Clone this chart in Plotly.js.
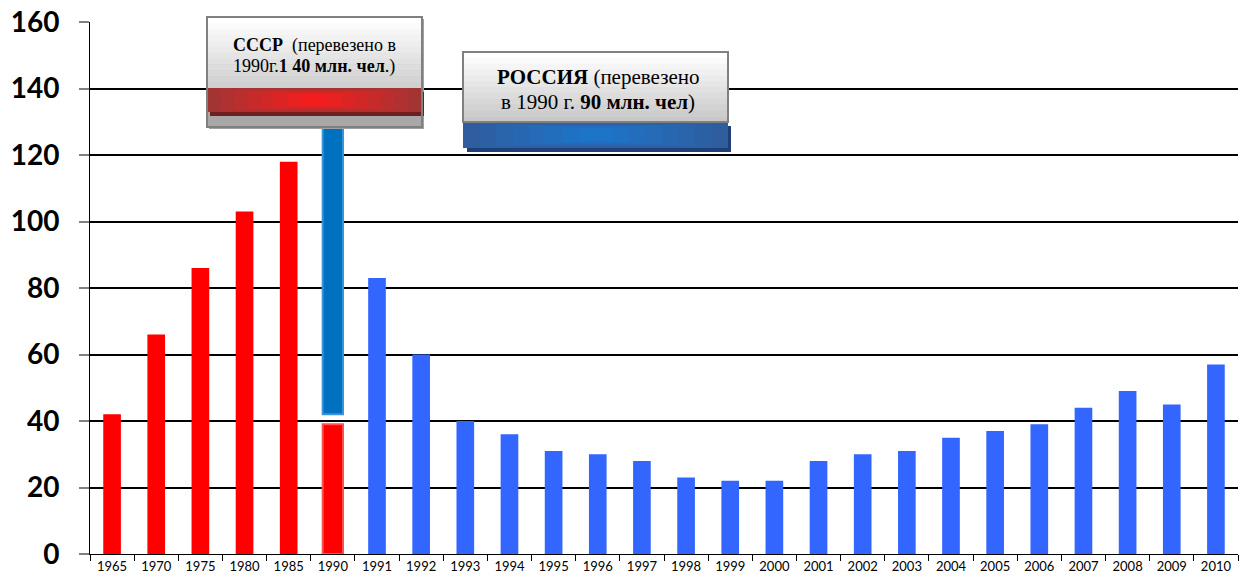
<!DOCTYPE html>
<html><head><meta charset="utf-8">
<script src="https://cdn.plot.ly/plotly-3.0.1.min.js"></script>
<style>body{margin:0;background:#fff}#chart{width:1243px;height:581px}</style>
</head><body><div id="chart"></div>
<script>
const years = ['1965','1970','1975','1980','1985','1990','1991','1992','1993','1994','1995','1996','1997','1998','1999','2000','2001','2002','2003','2004','2005','2006','2007','2008','2009','2010'];
const ussrYears = ['1965','1970','1975','1980','1985'];
const ussrValues = [42, 66, 86, 103, 118];
const ussr1990 = [39];
const russia1990Base = [42];
const russia1990Top = [130];
const russiaYears = ['1991','1992','1993','1994','1995','1996','1997','1998','1999','2000','2001','2002','2003','2004','2005','2006','2007','2008','2009','2010'];
const russiaValues = [83, 60, 40, 36, 31, 30, 28, 23, 22, 22, 28, 30, 31, 35, 37, 39, 44, 49, 45, 57];
const yTicks = [0,20,40,60,80,100,120,140,160];

const W=1243,H=581,L=90,R=5,T=22,B=27;
const pw=W-L-R, ph=H-T-B;
const px=x=>(x-L)/pw, py=y=>(H-B-y)/ph;
function rect(x0,y0,x1,y1,fill,line,lw){return {type:'rect',xref:'paper',yref:'paper',x0:px(x0),x1:px(x1),y0:py(y1),y1:py(y0),fillcolor:fill,line:{color:line||fill,width:lw||0},layer:'above'};}

const shapes=[];
const parse=c=>[parseInt(c.slice(1,3),16),parseInt(c.slice(3,5),16),parseInt(c.slice(5,7),16)];
function gradBox(x0,y0,x1,y1,c0,c1,n){
  const a=parse(c0),b=parse(c1);
  for(let i=0;i<n;i++){const t=i/(n-1);const c='rgb('+a.map((v,k)=>Math.round(v+(b[k]-v)*t)).join(',')+')';
    shapes.push(rect(x0,y0+(y1-y0)*i/n,x1,y0+(y1-y0)*(i+1)/n+0.5,c));}
}
function hGradBand(x0,y0,x1,y1,edge,mid,n){
  const a=parse(edge),b=parse(mid);
  shapes.push(rect(x0,y0,x1,y1,edge));
  for(let i=1;i<n;i++){const t=i/n;const c='rgb('+a.map((v,k)=>Math.round(v+(b[k]-v)*t)).join(',')+')';
    const cx=(x0+x1)/2, hw=(x1-x0)/2*(1-t), hh=(y1-y0)/2*(1-t*0.6);const cy=(y0+y1)/2;
    shapes.push(rect(cx-hw,cy-hh,cx+hw,cy+hh,c));}
}
// Box 1 (USSR)
shapes.push(rect(209,19,424,129,'#a0a0a0'));
gradBox(207,17,422,88,'#ffffff','#d0d0d0',12);
shapes.push(rect(207,88,422,127,'#a8a8a8'));
shapes.push(rect(210,92,424,116,'#6e2020'));
hGradBand(207,88,422,112,'#a33434','#ff1a1a',8);
shapes.push(rect(207,17,422,127,'rgba(0,0,0,0)','#808080',2));
// Box 2 (Russia)
gradBox(463,52,728,122,'#ffffff','#c8c8c8',12);
shapes.push(rect(467,126,731,152,'#1e3f78'));
hGradBand(463,122,728,148,'#2f5d9e','#1a78d0',8);
shapes.push(rect(463,52,728,122,'rgba(0,0,0,0)','#808080',2));

const data=[
 {type:'bar',x:ussrYears,y:ussrValues,width:0.4,marker:{color:'#ff0000'}},
 {type:'bar',x:['1990'],y:ussr1990,width:0.46,marker:{color:'#ff0000',line:{color:'#ff5050',width:2}}},
 {type:'bar',x:['1990'],y:russia1990Top.map((v,i)=>v-russia1990Base[i]),base:russia1990Base,width:0.46,marker:{color:'#0070c0',line:{color:'#3a92d8',width:2}}},
 {type:'bar',x:russiaYears,y:russiaValues,width:0.4,marker:{color:'#3366ff'}}
];
const layout={
 width:W,height:H,margin:{l:L,r:R,t:T,b:B},showlegend:false,barmode:'overlay',
 paper_bgcolor:'#fff',plot_bgcolor:'#fff',
 xaxis:{type:'category',categoryorder:'array',categoryarray:years,tickvals:years,ticktext:years,
   ticks:'outside',tickson:'boundaries',ticklen:6,tickcolor:'#000',tickwidth:1,
   showline:true,linecolor:'#000',linewidth:1,showgrid:false,
   tickfont:{family:'Lato, Carlito, sans-serif',size:13,color:'#000'},range:[-0.5,25.5]},
 yaxis:{range:[0,160],tickvals:yTicks,ticktext:yTicks.map(v=>'<b>'+v+'</b>'),showgrid:true,gridcolor:'#000',gridwidth:2,
   zeroline:false,showline:true,linecolor:'#000',linewidth:1,ticks:'outside',ticklen:10,tickcolor:'#808080',tickwidth:2,
   ticklabelstandoff:14,tickfont:{family:'Lato, sans-serif',size:28,color:'#000'}},
 shapes:shapes,
 annotations:[
  {xref:'paper',yref:'paper',x:px(314),y:py(45),text:'<b>СССР</b>  (перевезено в',showarrow:false,font:{family:'Liberation Serif, serif',size:18,color:'#000'},xanchor:'center',yanchor:'middle'},
  {xref:'paper',yref:'paper',x:px(314),y:py(66),text:'1990г.<b>1 40 млн. чел</b>.)',showarrow:false,font:{family:'Liberation Serif, serif',size:18,color:'#000'},xanchor:'center',yanchor:'middle'},
  {xref:'paper',yref:'paper',x:px(598),y:py(77),text:'<b>РОССИЯ</b> (перевезено',showarrow:false,font:{family:'Liberation Serif, serif',size:21,color:'#000'},xanchor:'center',yanchor:'middle'},
  {xref:'paper',yref:'paper',x:px(598),y:py(102),text:'в 1990 г. <b>90 млн. чел</b>)',showarrow:false,font:{family:'Liberation Serif, serif',size:21,color:'#000'},xanchor:'center',yanchor:'middle'}
 ]
};
Plotly.newPlot('chart',data,layout,{displayModeBar:false,staticPlot:true});
</script></body></html>
